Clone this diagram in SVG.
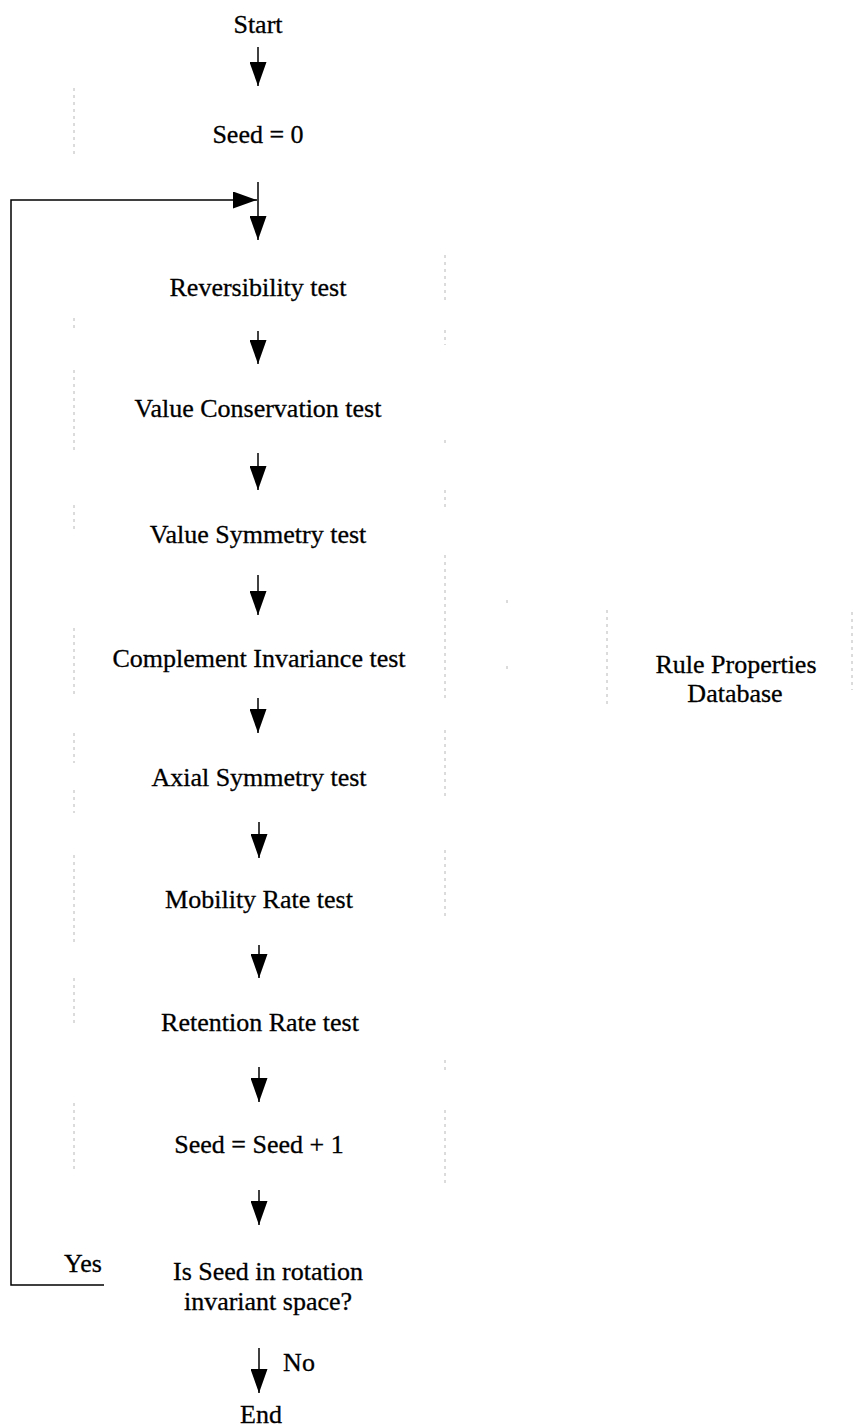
<svg xmlns="http://www.w3.org/2000/svg" width="854" height="1427" viewBox="0 0 854 1427">
  <style>
    text { font-family: "Liberation Serif", "Times New Roman", serif; font-size: 26px; fill: #000; stroke: #000; stroke-width: 0.3; text-anchor: middle; }
    .wire { stroke: #000; stroke-width: 1.5; fill: none; }
    .ghost { stroke: #b8b8b8; stroke-width: 1; stroke-dasharray: 3 4; fill: none; }
  </style>
  <defs>
    <marker id="head" viewBox="0 0 24 17" refX="24" refY="8.5" markerWidth="24" markerHeight="17" markerUnits="userSpaceOnUse" orient="auto">
      <path d="M0 0 L24 8.5 L0 17 Z" fill="#000"/>
    </marker>
  </defs>

  <!-- faint box outlines -->
  <g id="box-edges">
    <path class="ghost" d="M74 88 V158 M74 318 V330 M74 370 V450 M74 505 V530 M74 628 V697 M74 733 V763 M74 790 V813 M74 855 V943 M74 978 V1025 M74 1103 V1172"/>
    <path class="ghost" d="M445 255 V300 M445 330 V345 M445 440 V445 M445 490 V510 M445 555 V700 M445 730 V800 M445 850 V920 M445 1060 V1070 M445 1110 V1185"/>
    <path class="ghost" d="M607 610 V705 M507 600 V603 M507 666 V672 M852 612 V690"/>
  </g>

  <!-- connectors -->
  <g id="connectors">
    <line class="wire" x1="258" y1="47" x2="258" y2="86" marker-end="url(#head)"/>
    <line class="wire" x1="258" y1="182" x2="258" y2="240" marker-end="url(#head)"/>
    <polyline class="wire" points="104,1285 11,1285 11,200 257,200" marker-end="url(#head)"/>
    <line class="wire" x1="258" y1="331" x2="258" y2="364" marker-end="url(#head)"/>
    <line class="wire" x1="258" y1="453" x2="258" y2="490" marker-end="url(#head)"/>
    <line class="wire" x1="258" y1="575" x2="258" y2="615" marker-end="url(#head)"/>
    <line class="wire" x1="258" y1="698" x2="258" y2="733" marker-end="url(#head)"/>
    <line class="wire" x1="259" y1="822" x2="259" y2="858" marker-end="url(#head)"/>
    <line class="wire" x1="259" y1="945" x2="259" y2="978" marker-end="url(#head)"/>
    <line class="wire" x1="259" y1="1067" x2="259" y2="1102" marker-end="url(#head)"/>
    <line class="wire" x1="259" y1="1190" x2="259" y2="1225" marker-end="url(#head)"/>
    <line class="wire" x1="259" y1="1348" x2="259" y2="1393" marker-end="url(#head)"/>
    <text x="299" y="1371">No</text>
    <text x="83" y="1272">Yes</text>
  </g>

  <g id="start"><text x="258" y="33">Start</text></g>
  <g id="seed-init"><text x="258" y="143">Seed = 0</text></g>
  <g id="reversibility"><text x="258" y="296">Reversibility test</text></g>
  <g id="value-conservation"><text x="258" y="417">Value Conservation test</text></g>
  <g id="value-symmetry"><text x="258" y="543">Value Symmetry test</text></g>
  <g id="complement-invariance"><text x="259" y="667">Complement Invariance test</text></g>
  <g id="axial-symmetry"><text x="259" y="786">Axial Symmetry test</text></g>
  <g id="mobility-rate"><text x="259" y="908">Mobility Rate test</text></g>
  <g id="retention-rate"><text x="260" y="1031">Retention Rate test</text></g>
  <g id="seed-increment"><text x="259" y="1153">Seed = Seed + 1</text></g>
  <g id="rotation-check">
    <text x="268" y="1280">Is Seed in rotation</text>
    <text x="268" y="1310">invariant space?</text>
  </g>
  <g id="end"><text x="261" y="1423">End</text></g>
  <g id="rule-database">
    <text x="736" y="673">Rule Properties</text>
    <text x="735" y="702">Database</text>
  </g>
</svg>
